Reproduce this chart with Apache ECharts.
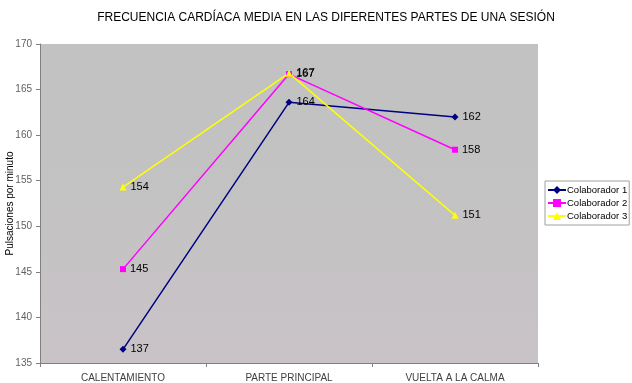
<!DOCTYPE html>
<html><head><meta charset="utf-8">
<script src="https://cdn.jsdelivr.net/npm/echarts@6/dist/echarts.min.js"></script>
<style>html,body{margin:0;padding:0;background:#fff}#c{width:632px;height:383px}</style>
</head><body><div id="c"></div>
<script>
const categories = ['CALENTAMIENTO', 'PARTE PRINCIPAL', 'VUELTA A LA CALMA'];
const colaborador1 = [136.5, 163.6, 162.0];
const colaborador2 = [145.3, 166.7, 158.4];
const colaborador3 = [154.3, 166.8, 151.2];
const seriesNames = ['Colaborador 1', 'Colaborador 2', 'Colaborador 3'];

const chart = echarts.init(document.getElementById('c'));
const font = 'Arial, "Liberation Sans", sans-serif';
function mk(name, data, color, symbol, size) {
  return {
    name, type: 'line', data, symbol, symbolSize: size,
    lineStyle: { color, width: 1.5 }, itemStyle: { color },
    label: { show: true, position: 'right', distance: 4, color: '#000', fontSize: 11, fontFamily: font,
      formatter: p => Math.round(p.value) },
    emphasis: { disabled: true }, animation: false
  };
}
chart.setOption({
  animation: false,
  title: { text: 'FRECUENCIA CARDÍACA MEDIA EN LAS DIFERENTES PARTES DE UNA SESIÓN', left: 321, textAlign: 'center', top: 7,
    textStyle: { fontSize: 12, fontWeight: 'normal', color: '#000', fontFamily: font } },
  grid: { left: 40, top: 44, width: 498, height: 319, show: true, borderWidth: 0,
    containLabel: false, outerBoundsMode: 'none',
    backgroundColor: new echarts.graphic.LinearGradient(0, 0, 0, 1, [
      { offset: 0, color: '#c2c2c2' }, { offset: 0.35, color: '#c2c2c2' }, { offset: 1, color: '#c9c3c7' }]) },
  legend: { orient: 'vertical', left: 545, top: 181, itemGap: 3, itemWidth: 18, itemHeight: 10,
    backgroundColor: '#fff', borderColor: '#a0a0a0', borderWidth: 1, padding: [4, 2, 4, 2],
    textStyle: { fontSize: 9.5, color: '#000', fontFamily: font, padding: [0, 0, 0, -4] },
    data: seriesNames },
  xAxis: { type: 'category', data: categories, boundaryGap: true,
    axisLine: { lineStyle: { color: '#808080', width: 1 } },
    axisTick: { show: true, length: 4, lineStyle: { color: '#808080' } },
    axisLabel: { color: '#404040', fontSize: 10, fontFamily: font, margin: 10 },
    splitLine: { show: false } },
  yAxis: { type: 'value', min: 135, max: 170, interval: 5,
    name: 'Pulsaciones por minuto', nameLocation: 'middle', nameGap: 25, nameMoveOverlap: false,
    nameTextStyle: { color: '#000', fontSize: 10, fontFamily: font },
    axisLine: { show: true, lineStyle: { color: '#808080', width: 1 } },
    axisTick: { show: true, length: 4, lineStyle: { color: '#808080' } },
    axisLabel: { color: '#606060', fontSize: 10, fontFamily: font, margin: 8 },
    splitLine: { show: false } },
  series: [
    mk(seriesNames[0], colaborador1, '#000080', 'diamond', 7),
    mk(seriesNames[1], colaborador2, '#ff00ff', 'rect', 6),
    mk(seriesNames[2], colaborador3, '#ffff00', 'triangle', 7)
  ]
});
</script></body></html>
